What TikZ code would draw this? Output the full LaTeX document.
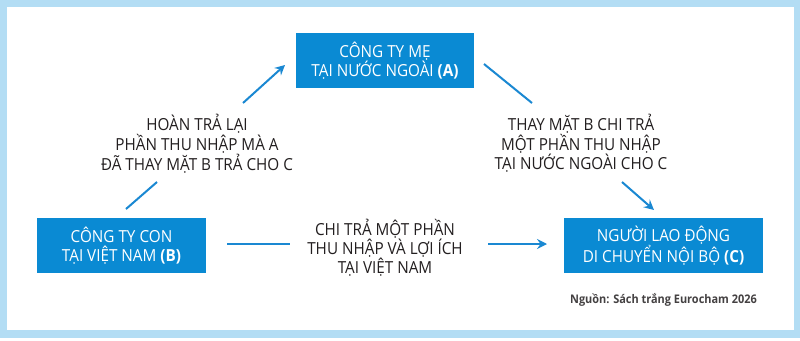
\documentclass[tikz,border=0pt]{standalone}
\usepackage{fontspec}
\setmainfont{Open Sans}[FakeStretch=0.92]
\usetikzlibrary{arrows.meta}
\definecolor{boxblue}{HTML}{0A8AD3}
\definecolor{lineblue}{HTML}{1A88D2}
\definecolor{framecol}{HTML}{B3DDF4}
\definecolor{txt}{HTML}{231F20}
\tikzset{
  boxnode/.style={fill=boxblue,text=white,align=center,inner sep=0pt,
    font=\fontsize{16.6}{19}\selectfont},
  lbl/.style={text=txt,align=center,inner sep=0pt,font=\fontsize{16.6}{17.6}\selectfont},
  conn/.style={draw=lineblue,line width=2pt},
  arr/.style={conn,-{Stealth[length=10pt,width=10pt,inset=3.5pt]}}
}
\begin{document}
\begin{tikzpicture}[x=1pt,y=-1pt]
\fill[framecol] (0,0) rectangle (800,338);
\fill[white] (7,7) rectangle (794,330);
\useasboundingbox (0,0) rectangle (800,340);

\node[boxnode,minimum width=178pt,minimum height=55pt] (A) at (385,60.5) {CÔNG TY MẸ\\TẠI NƯỚC NGOÀI \textbf{(A)}};
\node[boxnode,minimum width=169pt,minimum height=55pt] (B) at (121.5,245.5) {CÔNG TY CON\\TẠI VIỆT NAM \textbf{(B)}};
\node[boxnode,minimum width=199pt,minimum height=55pt] (C) at (663.5,245.5) {NGƯỜI LAO ĐỘNG\\DI CHUYỂN NỘI BỘ \textbf{(C)}};

\node[lbl] (LL) at (197,143.5) {HOÀN TRẢ LẠI\\PHẦN THU NHẬP MÀ A\\ĐÃ THAY MẶT B TRẢ CHO C};
\node[lbl] (LR) at (581,143.5) {THAY MẶT B CHI TRẢ\\MỘT PHẦN THU NHẬP\\TẠI NƯỚC NGOÀI CHO C};
\node[lbl,font=\fontsize{16.6}{19}\selectfont] (LB) at (385,247.5) {CHI TRẢ MỘT PHẦN\\THU NHẬP VÀ LỢI ÍCH\\TẠI VIỆT NAM};

\node[text=txt!85,anchor=base east,inner sep=0pt,font=\fontsize{11.9}{12}\selectfont\bfseries] (src) at (757,303) {Nguồn: Sách trắng Eurocham 2026};

\coordinate (b1) at (126,209); \coordinate (b2) at (157,182);
\coordinate (a1) at (243,103); \coordinate (a2) at (285,65);
\coordinate (r1) at (484,64); \coordinate (r2) at (532,103);
\coordinate (r3) at (622,182); \coordinate (r4) at (654,210);
\coordinate (m1) at (227,244); \coordinate (m2) at (290,244);
\coordinate (m3) at (488,244); \coordinate (m4) at (547,244);

\draw[conn] (b1) -- (b2);
\draw[arr] (a1) -- (a2);
\draw[conn] (r1) -- (r2);
\draw[arr] (r3) -- (r4);
\draw[conn] (m1) -- (m2);
\draw[arr] (m3) -- (m4);
\end{tikzpicture}
\end{document}
